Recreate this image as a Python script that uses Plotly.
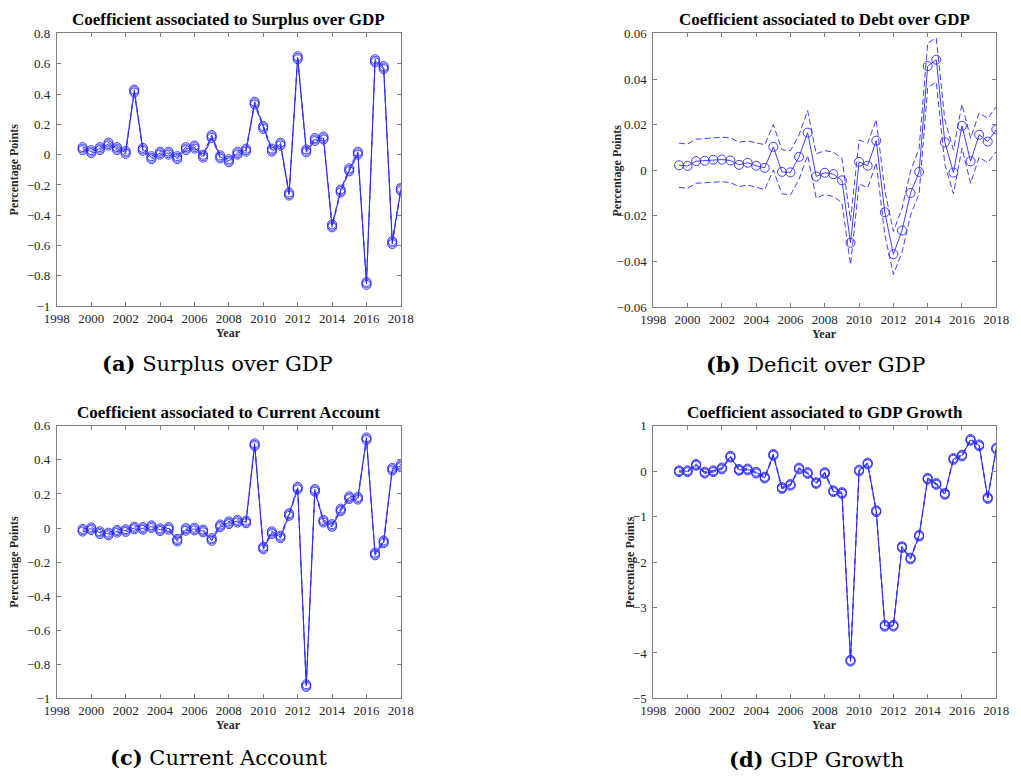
import plotly.graph_objects as go

# ---------------- data ----------------
years = [1999.5, 2000, 2000.5, 2001, 2001.5, 2002, 2002.5, 2003, 2003.5, 2004, 2004.5,
         2005, 2005.5, 2006, 2006.5, 2007, 2007.5, 2008, 2008.5, 2009, 2009.5,
         2010, 2010.5, 2011, 2011.5, 2012, 2012.5, 2013, 2013.5, 2014, 2014.5,
         2015, 2015.5, 2016, 2016.5, 2017, 2017.5, 2018]
x_ticks = [1998, 2000, 2002, 2004, 2006, 2008, 2010, 2012, 2014, 2016, 2018]

# (a) Surplus over GDP
a_coef = [0.04, 0.02, 0.04, 0.07, 0.04, 0.015, 0.42, 0.035, -0.02, 0.01, 0.01,
          -0.02, 0.04, 0.05, -0.01, 0.12, -0.015, -0.04, 0.01, 0.03, 0.34,
          0.18, 0.03, 0.07, -0.26, 0.64, 0.025, 0.10, 0.11, -0.47, -0.24,
          -0.10, 0.01, -0.85, 0.62, 0.575, -0.58, -0.23]
a_upper = [0.05, 0.03, 0.05, 0.08, 0.05, 0.025, 0.43, 0.045, -0.01, 0.02, 0.02,
           -0.01, 0.05, 0.06, 0.0, 0.13, -0.005, -0.03, 0.02, 0.04, 0.35,
           0.19, 0.04, 0.08, -0.25, 0.65, 0.035, 0.11, 0.12, -0.46, -0.23,
           -0.09, 0.02, -0.84, 0.63, 0.585, -0.57, -0.22]
a_lower = [0.03, 0.01, 0.03, 0.06, 0.03, 0.005, 0.41, 0.025, -0.03, 0.0, 0.0,
           -0.03, 0.03, 0.04, -0.02, 0.11, -0.025, -0.05, 0.0, 0.02, 0.33,
           0.17, 0.02, 0.06, -0.27, 0.63, 0.015, 0.09, 0.10, -0.48, -0.25,
           -0.11, 0.0, -0.86, 0.61, 0.565, -0.59, -0.24]

# (b) Debt / Deficit over GDP
b_coef = [0.0022, 0.0019, 0.004, 0.0042, 0.0046, 0.0047, 0.0043, 0.0024, 0.0033, 0.002, 0.0011,
          0.0103, -0.0007, -0.0009, 0.0059, 0.0165, -0.0027, -0.0011, -0.0017, -0.0044, -0.0318,
          0.0037, 0.002, 0.013, -0.0184, -0.0368, -0.0264, -0.010, -0.0007, 0.0457, 0.0485,
          0.0123, -0.001, 0.0195, 0.004, 0.0156, 0.0126, 0.0179]
b_upper = [0.0119, 0.0115, 0.0136, 0.0138, 0.0142, 0.0145, 0.0142, 0.0123, 0.0129, 0.0122, 0.0112,
           0.020, 0.009, 0.0086, 0.0155, 0.0262, 0.0072, 0.0086, 0.008, 0.0052, -0.022,
           0.0133, 0.0119, 0.0222, -0.0089, -0.0268, -0.0168, -0.0003, 0.0095, 0.0559, 0.058,
           0.022, 0.009, 0.029, 0.014, 0.0252, 0.0227, 0.028]
b_lower = [-0.0075, -0.0079, -0.0057, -0.0055, -0.0051, -0.005, -0.0054, -0.0072, -0.0064, -0.0073, -0.0085,
           0.0001, -0.0103, -0.0108, -0.0039, 0.0066, -0.0122, -0.0106, -0.0115, -0.0142, -0.0414,
           -0.006, -0.0077, 0.0033, -0.0282, -0.0457, -0.036, -0.0197, -0.0103, 0.0363, 0.0387,
           0.0026, -0.0103, 0.0097, -0.0057, 0.0057, 0.0033, 0.0083]

# (c) Current Account
c_coef = [-0.013, -0.004, -0.027, -0.035, -0.019, -0.015, 0.0, -0.002, 0.008, -0.01, -0.002,
          -0.071, -0.008, -0.006, -0.017, -0.067, 0.013, 0.031, 0.04, 0.036, 0.489,
          -0.117, -0.027, -0.052, 0.079, 0.234, -0.925, 0.221, 0.04, 0.015, 0.106,
          0.178, 0.175, 0.524, -0.152, -0.081, 0.345, 0.365]
c_upper = [-0.005, 0.004, -0.019, -0.027, -0.011, -0.007, 0.008, 0.006, 0.016, -0.002, 0.006,
           -0.063, 0.0, 0.002, -0.009, -0.059, 0.021, 0.039, 0.048, 0.044, 0.497,
           -0.109, -0.019, -0.044, 0.087, 0.242, -0.917, 0.229, 0.048, 0.023, 0.114,
           0.186, 0.183, 0.532, -0.144, -0.073, 0.353, 0.373]
c_lower = [-0.021, -0.012, -0.035, -0.043, -0.027, -0.023, -0.008, -0.010, 0.0, -0.018, -0.010,
           -0.079, -0.016, -0.014, -0.025, -0.075, 0.005, 0.023, 0.032, 0.028, 0.481,
           -0.125, -0.035, -0.060, 0.071, 0.226, -0.933, 0.213, 0.032, 0.007, 0.098,
           0.170, 0.167, 0.516, -0.160, -0.089, 0.337, 0.357]

# (d) GDP Growth
d_coef = [0.0, 0.0, 0.14, -0.03, 0.0, 0.06, 0.32, 0.03, 0.04, -0.03, -0.14,
          0.36, -0.37, -0.30, 0.06, -0.04, -0.26, -0.04, -0.44, -0.48, -4.17,
          0.015, 0.17, -0.88, -3.40, -3.40, -1.67, -1.92, -1.42, -0.165, -0.28,
          -0.50, 0.27, 0.345, 0.69, 0.57, -0.59, 0.50]
d_upper = [0.02, 0.02, 0.16, -0.01, 0.02, 0.08, 0.34, 0.05, 0.06, -0.01, -0.12,
           0.38, -0.35, -0.28, 0.08, -0.02, -0.24, -0.02, -0.42, -0.46, -4.15,
           0.035, 0.19, -0.86, -3.38, -3.38, -1.65, -1.90, -1.40, -0.145, -0.26,
           -0.48, 0.29, 0.365, 0.71, 0.59, -0.57, 0.52]
d_lower = [-0.02, -0.02, 0.12, -0.05, -0.02, 0.04, 0.30, 0.01, 0.02, -0.05, -0.16,
           0.34, -0.39, -0.32, 0.04, -0.06, -0.28, -0.06, -0.46, -0.50, -4.19,
           -0.005, 0.15, -0.90, -3.42, -3.42, -1.69, -1.94, -1.44, -0.185, -0.30,
           -0.52, 0.25, 0.325, 0.67, 0.55, -0.61, 0.48]

panels = [
    dict(coef=a_coef, up=a_upper, lo=a_lower, band_markers=True,
         title="Coefficient associated to Surplus over GDP",
         caption="<b>(a)</b> Surplus over GDP",
         yrange=[-1, 0.8], ytick=0.2),
    dict(coef=b_coef, up=b_upper, lo=b_lower, band_markers=False,
         title="Coefficient associated to Debt over GDP",
         caption="<b>(b)</b> Deficit over GDP",
         yrange=[-0.06, 0.06], ytick=0.02),
    dict(coef=c_coef, up=c_upper, lo=c_lower, band_markers=True,
         title="Coefficient associated to Current Account",
         caption="<b>(c)</b> Current Account",
         yrange=[-1, 0.6], ytick=0.2),
    dict(coef=d_coef, up=d_upper, lo=d_lower, band_markers=True,
         title="Coefficient associated to GDP Growth",
         caption="<b>(d)</b> GDP Growth",
         yrange=[-5, 1], ytick=1),
]

# ---------------- layout geometry (pixels) ----------------
W, H = 1021, 780
FONT = "Times New Roman, Liberation Serif, Times, serif"
CAPFONT = "DejaVu Serif, Liberation Serif, serif"
BLUE = "#2a2aff"
AXC = "#7f7f7f"
TXT = "#262626"

boxes = [  # left, right, top, bottom  (pixels)
    (45, 398, 27, 305),
    (657, 1009, 27, 306),
    (45, 398, 427, 705),
    (657, 1009, 427, 705),
]
ylab_x = [14, 620, 14, 633]
ylab_shift = [-13, 0, -13, 0]
caption_pos = [(210, 363), (824, 365), (211, 765), (824, 767)]

fig = go.Figure()
annotations = []


def px(x):
    return x / W


def py(y):
    return 1 - y / H


for i, (p, (l, r, t, b)) in enumerate(zip(panels, boxes)):
    k = "" if i == 0 else str(i + 1)
    xa, ya = "x" + k, "y" + k
    mk = dict(symbol="circle-open", size=9, color=BLUE, line=dict(width=0.9, color=BLUE))
    for series in (p["up"], p["lo"]):
        fig.add_trace(go.Scatter(
            x=years, y=series, xaxis=xa, yaxis=ya,
            mode="lines+markers" if p["band_markers"] else "lines",
            line=dict(color=BLUE, width=0.9, dash="6px,3px"),
            marker=mk, showlegend=False, hoverinfo="skip"))
    fig.add_trace(go.Scatter(
        x=years, y=p["coef"], xaxis=xa, yaxis=ya, mode="lines+markers",
        line=dict(color=BLUE, width=0.9), marker=mk, showlegend=False))

    axis_common = dict(showline=True, linecolor=AXC, linewidth=1, mirror="ticks",
                       ticks="inside", ticklen=4, tickcolor=AXC, showgrid=False,
                       zeroline=False, tickfont=dict(family=FONT, size=13, color=TXT))
    fig.layout["xaxis" + k] = dict(domain=[px(l), px(r)], range=[1998, 2018],
                                   tickvals=x_ticks, anchor=ya, ticklabelstandoff=0,
                                   **axis_common)
    fig.layout["yaxis" + k] = dict(domain=[py(b), py(t)], range=p["yrange"],
                                   dtick=p["ytick"], tick0=0, anchor=xa,
                                   ticklabelstandoff=3, **axis_common)

    cx = (l + r) / 2
    annotations.append(dict(text="<b>" + p["title"] + "</b>", x=px(cx), y=py(t - 14),
                            xref="paper", yref="paper", showarrow=False,
                            xanchor="center", yanchor="middle",
                            font=dict(family=FONT, size=17, color="#000")))
    annotations.append(dict(text="<b>Year</b>", x=px(cx), y=py(b + 27),
                            xref="paper", yref="paper", showarrow=False,
                            xanchor="center", yanchor="middle",
                            font=dict(family=FONT, size=12, color=TXT)))
    annotations.append(dict(text="<b>Percentage Points</b>", x=px(ylab_x[i]),
                            xshift=ylab_shift[i],
                            y=py((t + b) / 2), textangle=-90,
                            xref="paper", yref="paper", showarrow=False,
                            xanchor="center", yanchor="middle",
                            font=dict(family=FONT, size=12, color=TXT)))
    cxp, cyp = caption_pos[i]
    annotations.append(dict(text=p["caption"], x=px(cxp), y=py(cyp),
                            xref="paper", yref="paper", showarrow=False,
                            xanchor="center", yanchor="middle",
                            font=dict(family=CAPFONT, size=21, color="#000")))

fig.update_layout(width=W, height=H, margin=dict(l=0, r=0, t=0, b=0),
                  paper_bgcolor="white", plot_bgcolor="white",
                  annotations=annotations, showlegend=False)

fig.write_html("out.html")
